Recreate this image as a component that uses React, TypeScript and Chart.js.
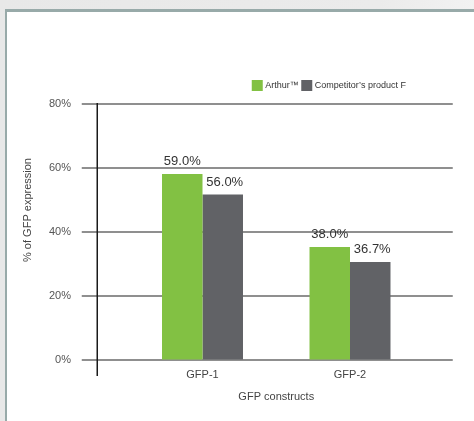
import React, { useEffect, useRef } from 'react';
import { Chart, registerables } from 'chart.js';

Chart.register(...registerables);

const categories = ['GFP-1', 'GFP-2'];
const arthurValues = [58.1, 35.3];
const competitorValues = [51.7, 30.6];
const arthurLabels = ['59.0%', '38.0%'];
const competitorLabels = ['56.0%', '36.7%'];
const seriesNames = ['Arthur™', 'Competitor’s product F'];
const seriesColors = ['#82c143', '#616266'];
const yTicks = [0, 20, 40, 60, 80];
const yTitle = '% of GFP expression';
const xTitle = 'GFP constructs';

const FONT = '"Liberation Sans", Arial, sans-serif';

const overlay = {
  id: 'overlay',
  beforeDatasetsDraw(chart: any) {
    const { ctx, chartArea: a, scales } = chart;
    const y = scales.y;
    ctx.save();
    ctx.strokeStyle = '#8f8f8f';
    ctx.lineWidth = 2;
    for (const v of yTicks) {
      const py = Math.round(y.getPixelForValue(v));
      ctx.beginPath();
      ctx.moveTo(a.left - 47, py);
      ctx.lineTo(a.right + 29, py);
      ctx.stroke();
    }
    ctx.strokeStyle = '#1a1a1a';
    ctx.lineWidth = 1.5;
    ctx.beginPath();
    ctx.moveTo(a.left - 31.5, a.top - 1);
    ctx.lineTo(a.left - 31.5, a.bottom + 16);
    ctx.stroke();
    ctx.restore();
  },
  afterDatasetsDraw(chart: any) {
    const { ctx, chartArea: a } = chart;
    ctx.save();
    // value labels
    ctx.font = `13px ${FONT}`;
    ctx.fillStyle = '#333333';
    ctx.textAlign = 'center';
    ctx.textBaseline = 'alphabetic';
    const labelSets = [arthurLabels, competitorLabels];
    chart.data.datasets.forEach((_: any, di: number) => {
      const meta = chart.getDatasetMeta(di);
      meta.data.forEach((bar: any, i: number) => {
        ctx.fillText(labelSets[di][i], bar.x + di * 2, bar.y - 9);
      });
    });
    // legend
    ctx.font = `9px ${FONT}`;
    ctx.textAlign = 'left';
    ctx.textBaseline = 'middle';
    let lx = a.right - 172;
    const ly = a.top - 18.5;
    seriesNames.forEach((name, i) => {
      ctx.fillStyle = seriesColors[i];
      ctx.fillRect(lx, ly - 5.5, 11, 11);
      ctx.fillStyle = '#333333';
      ctx.fillText(name, lx + 13.5, ly + 0.5);
      lx += 13.5 + ctx.measureText(name).width + 2.5;
    });
    // y title
    ctx.font = `11px ${FONT}`;
    ctx.fillStyle = '#444444';
    ctx.textAlign = 'center';
    ctx.textBaseline = 'middle';
    ctx.translate(a.left - 100.5, (a.top + a.bottom) / 2 - 22);
    ctx.rotate(-Math.PI / 2);
    ctx.fillText(yTitle, 0, 0);
    ctx.restore();
  },
};

export default function App() {
  const ref = useRef<HTMLCanvasElement>(null);
  useEffect(() => {
    document.body.style.margin = '0';
    const chart = new Chart(ref.current as HTMLCanvasElement, {
      type: 'bar',
      data: {
        labels: categories,
        datasets: [
          { label: seriesNames[0], data: arthurValues, backgroundColor: seriesColors[0] },
          { label: seriesNames[1], data: competitorValues, backgroundColor: seriesColors[1] },
        ],
      },
      options: {
        responsive: false,
        animation: false,
        devicePixelRatio: 1,
        layout: { padding: { left: 0, right: 50.25, top: 104, bottom: 0 } },
        datasets: { bar: { categoryPercentage: 0.549, barPercentage: 1 } },
        plugins: { legend: { display: false }, tooltip: { enabled: false } },
        scales: {
          x: {
            grid: { display: false, drawTicks: false },
            border: { display: false },
            ticks: { color: '#444444', font: { family: FONT, size: 11 }, padding: 8 },
            title: { display: true, text: xTitle, color: '#444444', font: { family: FONT, size: 11 }, padding: { top: 4, bottom: 17.5 } },
            afterFit: (s: any) => { s.height = 61; },
          },
          y: {
            min: 0,
            max: 80,
            grid: { display: true, drawOnChartArea: false, drawTicks: true, tickLength: 47.75, color: 'rgba(0,0,0,0)' },
            border: { display: false },
            ticks: { stepSize: 20, color: '#555555', font: { family: FONT, size: 11 }, padding: 10, callback: (v: any) => v + '%' },
            afterFit: (s: any) => { s.width = 128.75; },
          },
        },
      },
      plugins: [overlay],
    });
    return () => chart.destroy();
  }, []);
  return (
    <div style={{ position: 'relative', width: 474, height: 421, overflow: 'hidden', background: 'linear-gradient(90deg, #e8e8e8 0%, #ebebeb 80%, #f2f2f2 100%)' }}>
      <div style={{ position: 'absolute', left: 5, top: 9, width: 480, height: 420, background: '#ffffff', borderTop: '3px solid #98aaa9', borderLeft: '2px solid #98aaa9' }} />
      <canvas ref={ref} width={474} height={421} style={{ position: 'absolute', left: 0, top: 0, width: 474, height: 421 }} />
    </div>
  );
}
